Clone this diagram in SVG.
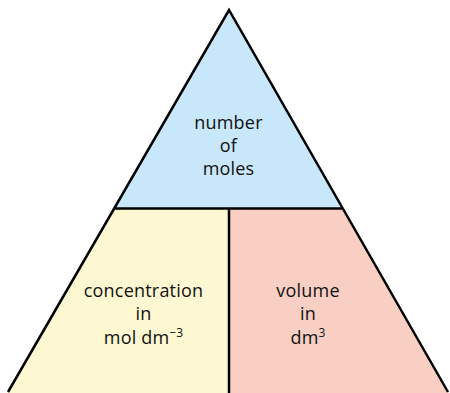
<svg xmlns="http://www.w3.org/2000/svg" width="450" height="393" viewBox="0 0 450 393">
<style>
.t{font-family:"Open Sans","Liberation Sans",sans-serif;font-size:18px;letter-spacing:0.2px;fill:#111;text-anchor:middle}
.s{font-size:12px;letter-spacing:0}
.ln{stroke:#000;stroke-width:2.5;fill:none;stroke-linejoin:miter}
</style>
<g id="top">
<polygon points="229,10 114.2,208.5 342.8,208.5" fill="#c8e7fa"/>
<text class="t" x="228.5" y="129">number</text>
<text class="t" x="228.5" y="152">of</text>
<text class="t" x="228.5" y="175">moles</text>
</g>
<g id="left">
<polygon points="114.2,208.5 229,208.5 229,393 7,393" fill="#fdf8d2"/>
<text class="t" x="143.5" y="297">concentration</text>
<text class="t" x="143.5" y="320">in</text>
<text class="t" x="143.5" y="344">mol dm<tspan class="s" dy="-7">−3</tspan></text>
</g>
<g id="right">
<polygon points="229,208.5 342.8,208.5 449,393 229,393" fill="#f9cfc4"/>
<text class="t" x="308" y="297">volume</text>
<text class="t" x="308" y="320">in</text>
<text class="t" x="308" y="344">dm<tspan class="s" dy="-7">3</tspan></text>
</g>
<g id="connectors">
<polyline class="ln" points="8,392 229,10 448,392"/>
<line class="ln" x1="114.2" y1="208.5" x2="342.8" y2="208.5"/>
<line class="ln" x1="229" y1="208.5" x2="229" y2="393"/>
</g>
</svg>
